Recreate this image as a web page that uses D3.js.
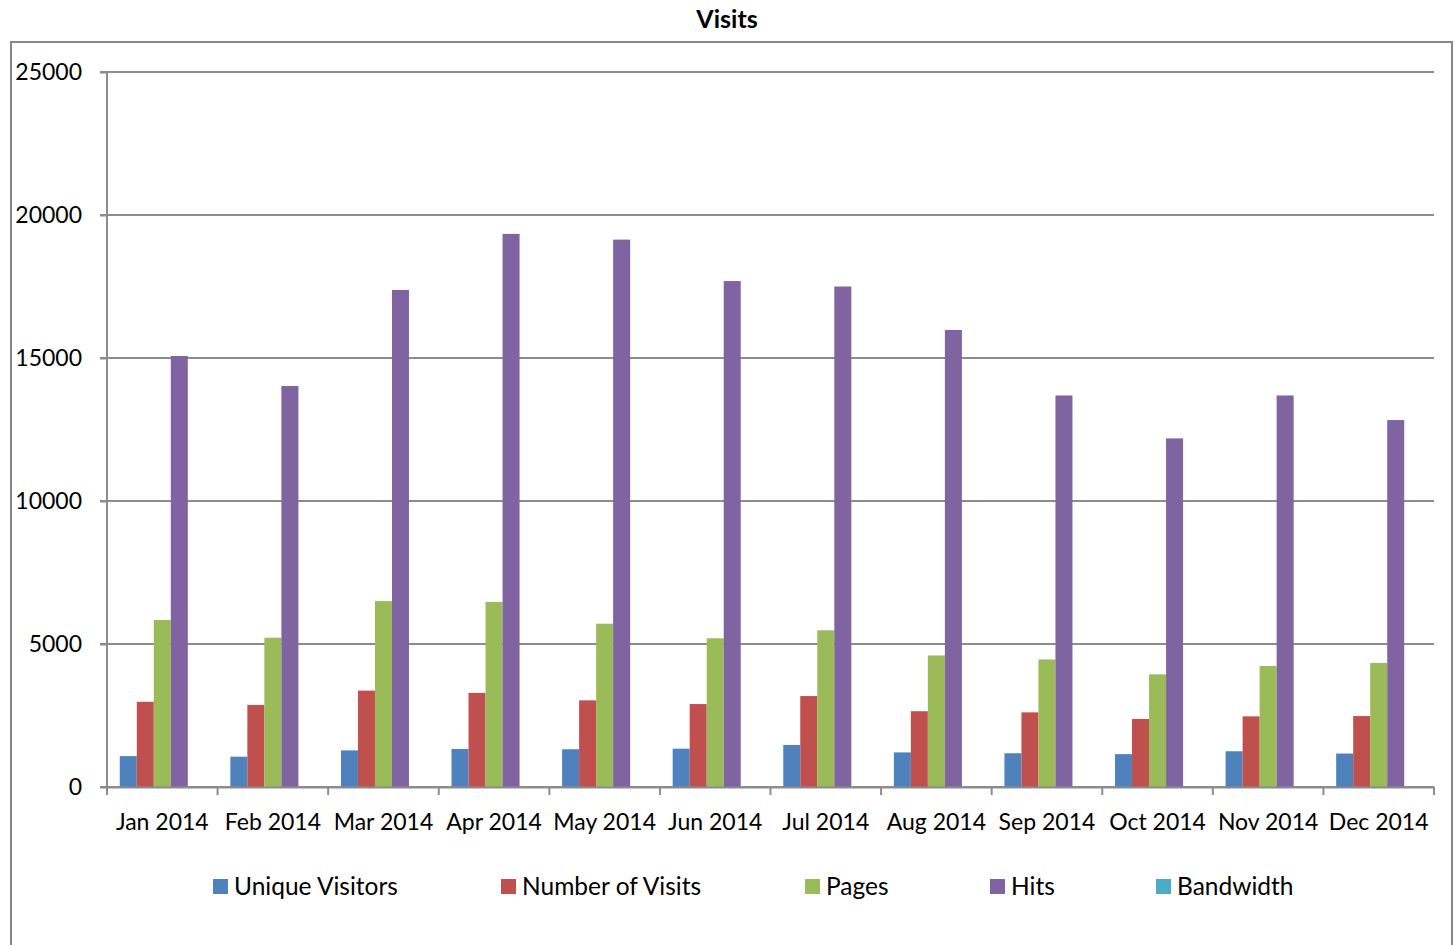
<!DOCTYPE html>
<html><head><meta charset="utf-8">
<script src="https://cdn.jsdelivr.net/npm/d3@7"></script>
<style>body{margin:0;background:#fff;} text{font-family:Lato,"Open Sans",sans-serif;}</style>
</head><body><svg id="c" width="1455" height="945"></svg>
<script>
const months = ["Jan 2014","Feb 2014","Mar 2014","Apr 2014","May 2014","Jun 2014","Jul 2014","Aug 2014","Sep 2014","Oct 2014","Nov 2014","Dec 2014"];
const seriesNames = ["Unique Visitors","Number of Visits","Pages","Hits","Bandwidth"];
const uniqueVisitors = [1080,1060,1280,1330,1320,1340,1470,1210,1180,1150,1250,1170];
const numberOfVisits = [2980,2870,3370,3290,3030,2900,3180,2650,2610,2380,2470,2480];
const pages = [5840,5220,6500,6470,5710,5200,5480,4600,4460,3940,4230,4340];
const hits = [15070,14020,17380,19340,19140,17690,17500,15980,13690,12190,13690,12830];
const bandwidth = [0,0,0,0,0,0,0,0,0,0,0,0];
const yTicks = [0,5000,10000,15000,20000,25000];
const colors = ["#4F81BD","#C0504D","#9BBB59","#8064A2","#4BACC6"];
const allSeries = [uniqueVisitors,numberOfVisits,pages,hits,bandwidth];

const svg = d3.select("#c");
const L=107,R=1434,T=72,B=787;
const FONT = "Lato,'Open Sans',sans-serif";
// outer border
svg.append("rect").attr("x",11).attr("y",42).attr("width",1441).attr("height",960)
  .attr("fill","none").attr("stroke","#868686").attr("stroke-width",2);
svg.append("text").attr("x",727).attr("y",28).attr("text-anchor","middle")
  .attr("font-size",25).attr("font-weight","bold").text("Visits");

const x = d3.scaleBand().domain(months).range([L,R]).paddingInner(0).paddingOuter(0);
const gap = x.bandwidth()/(seriesNames.length+1.5);
const x1 = d3.scaleBand().domain(seriesNames).range([gap*0.75, x.bandwidth()-gap*0.75]);
const y = d3.scaleLinear().domain([0,25000]).range([B,T]);

// gridlines
svg.append("g").selectAll("line").data(yTicks).join("line")
  .attr("x1",L-7).attr("x2",R).attr("y1",d=>y(d)).attr("y2",d=>y(d))
  .attr("stroke","#8c8c8c").attr("stroke-width",2);

// bars
const gs = svg.append("g").selectAll("g").data(allSeries).join("g")
  .attr("fill",(d,i)=>colors[i]);
gs.each(function(vals,si){
  d3.select(this).selectAll("rect").data(vals).join("rect")
    .attr("x",(v,i)=>x(months[i])+x1(seriesNames[si]))
    .attr("width",x1.bandwidth())
    .attr("y",v=>y(v)).attr("height",v=>B-y(v));
});

// y axis
const ya = svg.append("g").attr("transform",`translate(${L},0)`)
  .call(d3.axisLeft(y).tickValues(yTicks).tickSize(7).tickPadding(18).tickFormat(d3.format("d")));
ya.select(".domain").attr("stroke","#8c8c8c").attr("stroke-width",2).attr("d",`M0,${T}V${B}`);
ya.selectAll(".tick line").attr("stroke","#8c8c8c").attr("stroke-width",2);
ya.selectAll("text").attr("font-size",23).attr("fill","#000").attr("font-family",FONT);

// x axis
const xa = svg.append("g").attr("transform",`translate(0,${B})`)
  .call(d3.axisBottom(x).tickSize(0).tickPadding(27));
xa.select(".domain").attr("stroke","#8c8c8c").attr("stroke-width",2);
xa.selectAll("text").attr("font-size",23).attr("fill","#000").attr("font-family",FONT);
const bounds = months.map(m=>x(m)).concat([R]);
svg.append("g").selectAll("line").data(bounds).join("line")
  .attr("x1",d=>d).attr("x2",d=>d).attr("y1",B).attr("y2",B+8)
  .attr("stroke","#8c8c8c").attr("stroke-width",2);

// legend
const legX = [213,501,805,990,1156];
const lg = svg.append("g").selectAll("g").data(seriesNames).join("g")
  .attr("transform",(d,i)=>`translate(${legX[i]},879)`);
lg.append("rect").attr("width",15).attr("height",15).attr("fill",(d,i)=>colors[i]);
lg.append("text").attr("x",21).attr("y",16).attr("font-size",24.5).text(d=>d);
</script></body></html>
